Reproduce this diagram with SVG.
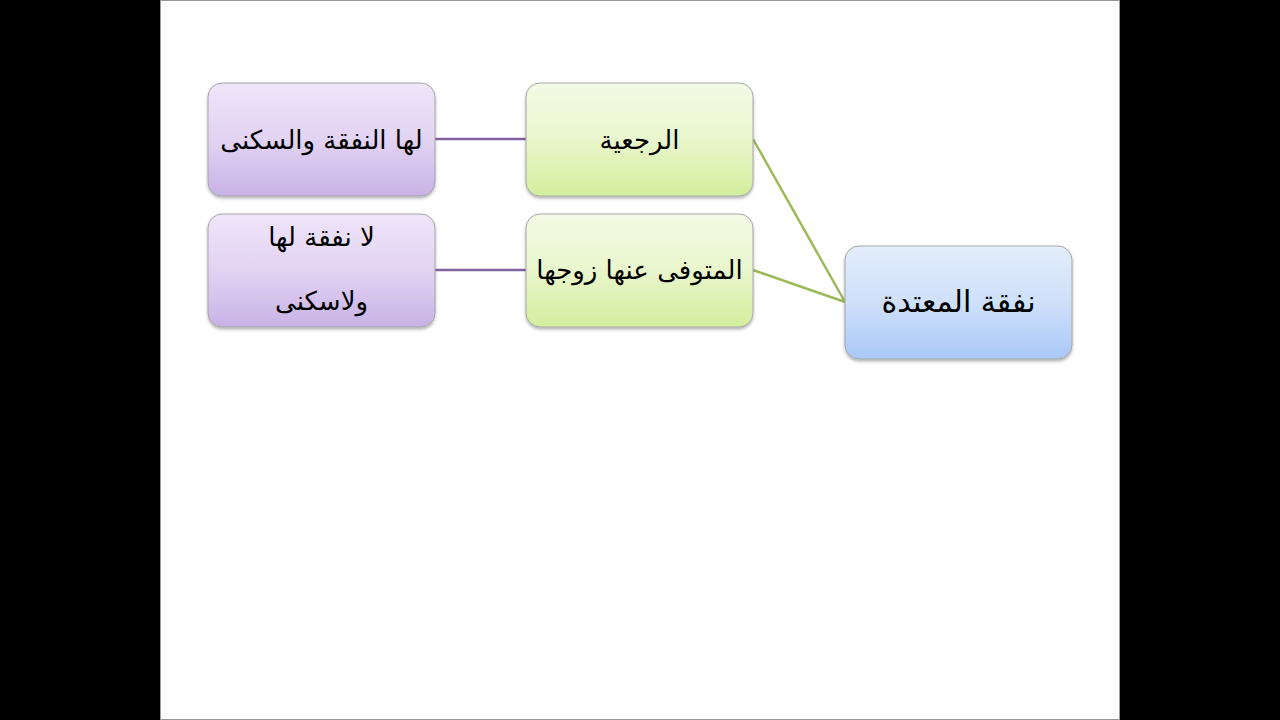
<svg xmlns="http://www.w3.org/2000/svg" width="1280" height="720" viewBox="0 0 1280 720">
<defs>
<linearGradient id="gP" x1="0" y1="0" x2="0" y2="1"><stop offset="0" stop-color="#efe5f9"/><stop offset="0.5" stop-color="#e2d3f3"/><stop offset="1" stop-color="#c8b2e6"/></linearGradient>
<linearGradient id="gG" x1="0" y1="0" x2="0" y2="1"><stop offset="0" stop-color="#f4fae6"/><stop offset="0.5" stop-color="#e9f6cc"/><stop offset="1" stop-color="#d3ee9d"/></linearGradient>
<linearGradient id="gB" x1="0" y1="0" x2="0" y2="1"><stop offset="0" stop-color="#e3edfb"/><stop offset="0.5" stop-color="#cfe0fa"/><stop offset="1" stop-color="#a9c7f7"/></linearGradient>
<filter id="sh" x="-10%" y="-10%" width="120%" height="130%"><feDropShadow dx="0" dy="2" stdDeviation="1.5" flood-color="#000" flood-opacity="0.3"/></filter>
</defs>
<style>
.box{stroke:#a6a6a6;stroke-width:1;filter:url(#sh)}
.t{font-family:"DejaVu Sans","Noto Sans",sans-serif;font-size:26px;fill:#000;text-anchor:middle}
.tb{font-size:30px}
.cp{stroke:#8064a2;stroke-width:2.5;fill:none}
.cg{stroke:#9bbb59;stroke-width:2.5;fill:none}
</style>
<rect x="0" y="0" width="1280" height="720" fill="#000"/>
<rect x="160.5" y="0.5" width="959" height="719" fill="#fff" stroke="#9a9a9a" stroke-width="1"/>
<g id="connectors">
<line class="cp" x1="435" y1="139" x2="526" y2="139"/>
<line class="cp" x1="435" y1="270" x2="526" y2="270"/>
<line class="cg" x1="753" y1="139" x2="845" y2="302"/>
<line class="cg" x1="753" y1="270" x2="845" y2="302"/>
</g>
<g id="n-purple1">
<rect class="box" x="208" y="83" width="227" height="113" rx="14" fill="url(#gP)"/>
<text class="t" x="321.5" y="149" direction="rtl">لها النفقة والسكنى</text>
</g>
<g id="n-purple2">
<rect class="box" x="208" y="214" width="227" height="113" rx="14" fill="url(#gP)"/>
<text class="t" x="321.5" y="246" direction="rtl">لا نفقة لها</text>
<text class="t" x="321.5" y="310" direction="rtl">ولاسكنى</text>
</g>
<g id="n-green1">
<rect class="box" x="526" y="83" width="227" height="113" rx="14" fill="url(#gG)"/>
<text class="t" x="639.5" y="149" direction="rtl">الرجعية</text>
</g>
<g id="n-green2">
<rect class="box" x="526" y="214" width="227" height="113" rx="14" fill="url(#gG)"/>
<text class="t" x="639.5" y="279" direction="rtl">المتوفى عنها زوجها</text>
</g>
<g id="n-blue">
<rect class="box" x="845" y="246" width="227" height="113" rx="14" fill="url(#gB)"/>
<text class="t tb" x="958.5" y="312" direction="rtl">نفقة المعتدة</text>
</g>
</svg>
